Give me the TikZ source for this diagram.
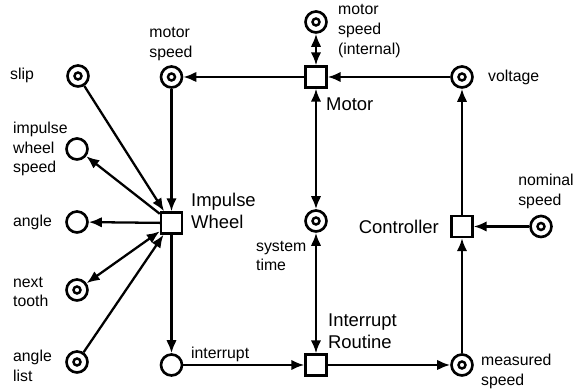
\documentclass[tikz,border=0pt]{standalone}
\usepackage{fontspec}
\setmainfont{Liberation Sans}
\usetikzlibrary{arrows.meta}

\begin{document}
\begin{tikzpicture}[
	place/.style={circle,draw,line width=1.5pt,minimum size=0.42cm,inner sep=0pt},
	marked/.style={place,path picture={\draw[line width=1.4pt] (path picture bounding box.center) circle (0.07);}},
	trans/.style={rectangle,draw,line width=1.4pt,minimum size=0.42cm,inner sep=0pt},
	lbl/.style={font=\fontsize{9}{11.3}\selectfont,align=left,inner sep=0pt},
	big/.style={font=\fontsize{10.5}{12.5}\selectfont,align=left,inner sep=0pt},
	>={Latex[length=2.6mm,width=2.1mm]},
	every path/.style={line width=1.3pt}]
	\useasboundingbox (0,0) rectangle (11.48,7.80);
	% places and transitions
	\node[marked] (slip) at (1.56,6.28) {};
	\node[marked] (ms) at (3.43,6.26) {};
	\node[place] (iws) at (1.54,4.82) {};
	\node[place] (ang) at (1.54,3.36) {};
	\node[marked] (nt) at (1.54,2.00) {};
	\node[marked] (al) at (1.54,0.56) {};
	\node[trans] (iw) at (3.43,3.34) {};
	\node[place] (intr) at (3.43,0.50) {};
	\node[trans] (motor) at (6.32,6.26) {};
	\node[marked] (msi) at (6.32,7.36) {};
	\node[marked] (volt) at (9.24,6.26) {};
	\node[marked] (st) at (6.32,3.38) {};
	\node[trans] (ctrl) at (9.24,3.27) {};
	\node[marked] (nom) at (10.82,3.27) {};
	\node[trans] (ir) at (6.32,0.50) {};
	\node[marked] (meas) at (9.24,0.50) {};
	% labels
	\node[lbl] (slipl) at (0.44,6.30) {slip};
	\node[lbl] (msl) at (3.42,6.92) {motor\\speed};
	\node[lbl,anchor=west] (iwsl) at (0.24,4.82) {impulse\\wheel\\speed};
	\node[lbl,anchor=west] (angl) at (0.24,3.36) {angle};
	\node[lbl,anchor=west] (ntl) at (0.24,1.96) {next\\tooth};
	\node[lbl,anchor=west] (all) at (0.24,0.48) {angle\\list};
	\node[big,anchor=west] (iwl) at (3.80,3.58) {Impulse\\Wheel};
	\node[lbl,anchor=west] (intrl) at (3.80,0.72) {interrupt};
	\node[lbl,anchor=west] (stl) at (5.10,2.68) {system\\time};
	\node[big,anchor=west] (irl) at (6.54,1.18) {Interrupt\\Routine};
	\node[lbl,anchor=west] (measl) at (9.60,0.38) {measured\\speed};
	\node[big,anchor=east] (ctrll) at (8.80,3.26) {Controller};
	\node[lbl] (noml) at (10.92,3.98) {nominal\\speed};
	\node[lbl,anchor=west] (voltl) at (9.74,6.26) {voltage};
	\node[big,anchor=west] (motorl) at (6.50,5.72) {Motor};
	\node[lbl,anchor=west] (msil) at (6.74,7.18) {motor\\speed\\(internal)};
	% arcs
	\draw[->] (motor) -- (ms);
	\draw[<->] (msi) -- (motor);
	\draw[->] (volt) -- (motor);
	\draw[<->] (motor) -- (st);
	\draw[<->] (st) -- (ir);
	\draw[->] (ctrl) -- (volt);
	\draw[->] (nom) -- (ctrl);
	\draw[->] (meas) -- (ctrl);
	\draw[->] (ir) -- (meas);
	\draw[->] (intr) -- (ir);
	\draw[->] (iw) -- (intr);
	\draw[->] (ms) -- (iw);
	\draw[->] (slip) -- (iw);
	\draw[->] (iw) -- (iws);
	\draw[->] (iw) -- (ang);
	\draw[<->] (iw) -- (nt);
	\draw[->] (al) -- (iw);
\end{tikzpicture}
\end{document}
